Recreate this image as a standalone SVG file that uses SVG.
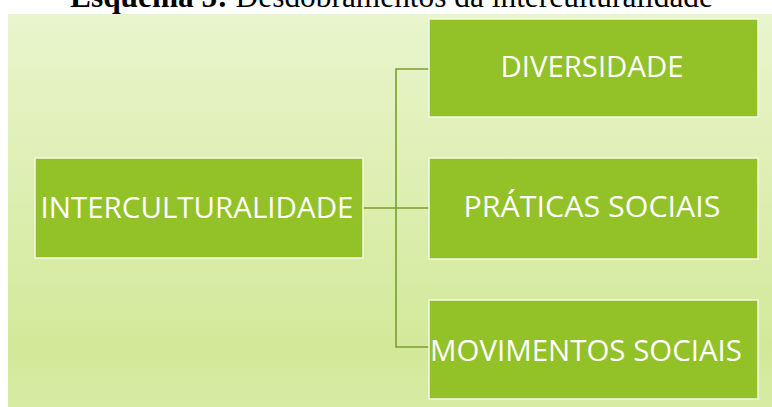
<svg xmlns="http://www.w3.org/2000/svg" width="772" height="407" viewBox="0 0 772 407">
<defs>
<linearGradient id="bg" x1="0" y1="0" x2="0" y2="1">
<stop offset="0" stop-color="#e9f5cd"/>
<stop offset="0.85" stop-color="#d2e999"/>
<stop offset="1" stop-color="#d6eca3"/>
</linearGradient>
<style>
.box{fill:#93c128;stroke:#f4f9e6;stroke-width:1.5}
.lbl{font-family:"Open Sans","Noto Sans","DejaVu Sans",sans-serif;font-size:29px;fill:#ffffff;text-anchor:middle}
.conn{fill:none;stroke:#7b9e2c;stroke-width:1.6}
.title{font-family:"Liberation Serif","Times New Roman",serif;font-size:31px;fill:#000000}
</style>
</defs>
<text class="title" x="70" y="7" textLength="643" lengthAdjust="spacingAndGlyphs"><tspan font-weight="bold">Esquema 5:</tspan> Desdobramentos da interculturalidade</text>
<rect x="8" y="14" width="764" height="393" fill="url(#bg)"/>
<g id="connectors">
<path class="conn" d="M363 208 H396 M429 69 H396 V347 H429 M396 208 H429"/>
</g>
<g id="interculturalidade">
<rect class="box" x="35" y="158" width="328" height="100"/>
<text class="lbl" x="197" y="218" textLength="313" lengthAdjust="spacingAndGlyphs">INTERCULTURALIDADE</text>
</g>
<g id="diversidade">
<rect class="box" x="429" y="19" width="329" height="98"/>
<text class="lbl" x="592" y="77" textLength="183" lengthAdjust="spacingAndGlyphs">DIVERSIDADE</text>
</g>
<g id="praticas-sociais">
<rect class="box" x="429" y="158" width="329" height="101"/>
<text class="lbl" x="592" y="217" textLength="257" lengthAdjust="spacingAndGlyphs">PRÁTICAS SOCIAIS</text>
</g>
<g id="movimentos-sociais">
<rect class="box" x="429" y="300" width="329" height="99"/>
<text class="lbl" x="586" y="361" textLength="312" lengthAdjust="spacingAndGlyphs">MOVIMENTOS SOCIAIS</text>
</g>
</svg>
